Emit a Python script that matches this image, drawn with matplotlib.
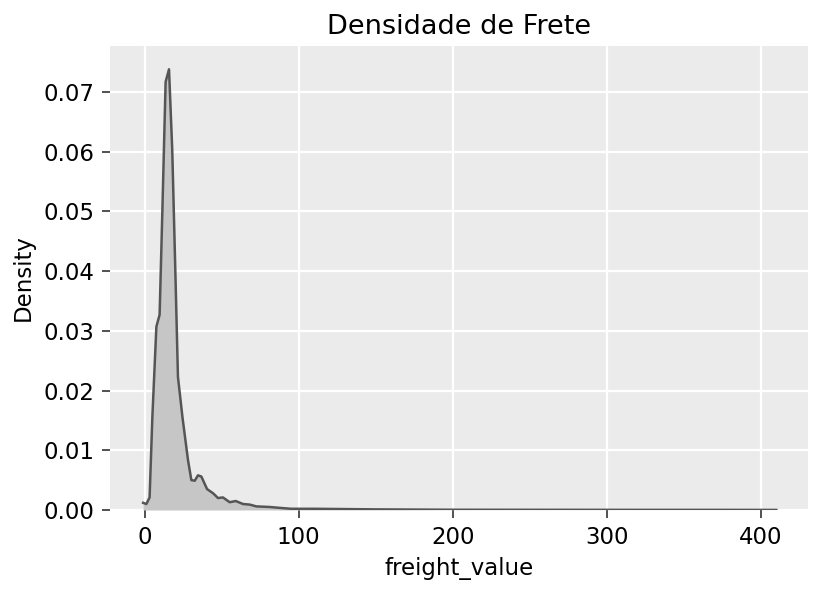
import numpy as np
import matplotlib.pyplot as plt

# density curve (freight_value vs density)
freight_value = [-1.0, 1.1, 3.2, 5.0, 7.6, 9.7, 11.5, 13.6, 15.8, 17.9, 20.1, 21.6,
                 24.5, 28.1, 30.3, 32.5, 34.6, 36.8, 40.5, 44.4, 47.6, 50.8, 55.2,
                 59.1, 63.8, 68.2, 72.5, 81.2, 85.5, 95.0, 110.0, 150.0, 200.0,
                 260.0, 320.0, 370.0, 410.0]
density = [0.0012, 0.0010, 0.0021, 0.0156, 0.0307, 0.0327, 0.0502, 0.0717, 0.0738,
           0.0603, 0.0380, 0.0223, 0.0156, 0.0084, 0.0050, 0.0049, 0.0058, 0.0056,
           0.0035, 0.0028, 0.0020, 0.0021, 0.0013, 0.0015, 0.0010, 0.0009, 0.0006,
           0.0005, 0.0004, 0.0002, 0.0002, 0.0001, 0.00004, 0.00003, 0.00002,
           0.00002, 0.00001]

x = np.array(freight_value)
y = np.array(density)

fig = plt.figure(figsize=(824 / 150, 593 / 150), dpi=150)
ax = fig.add_axes([0.1335, 0.14, 0.847, 0.7824])
ax.set_facecolor('#EBEBEB')
for s in ax.spines.values():
    s.set_visible(False)
ax.grid(True, color='white', linewidth=1.1)
ax.set_axisbelow(True)

ax.fill_between(x, y, color='#c6c6c6', alpha=1.0, linewidth=0)
ax.plot(x, y, color='#555555', linewidth=1.2)

ax.set_xlim(-22.5, 430.5)
ax.set_ylim(0, 0.0777)
ax.set_xticks([0, 100, 200, 300, 400])
ax.set_yticks(np.arange(0, 0.071, 0.01))
ax.yaxis.set_major_formatter(plt.FormatStrFormatter('%.2f'))
ax.tick_params(labelsize=11, color='#333333', length=4)

ax.set_title('Densidade de Frete', fontsize=13)
ax.set_xlabel('freight_value', fontsize=11)
ax.set_ylabel('Density', fontsize=11)

fig.savefig('out.png', dpi=150)
